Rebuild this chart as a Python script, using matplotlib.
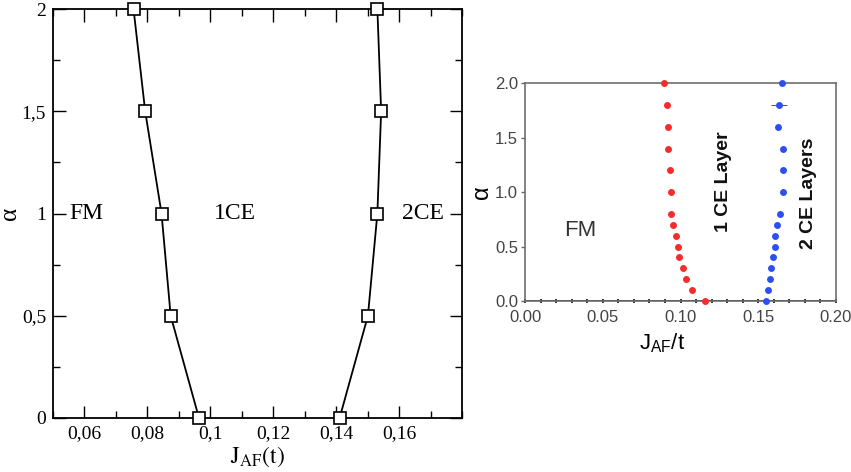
import matplotlib
matplotlib.use("Agg")
import matplotlib.pyplot as plt
from matplotlib.ticker import MultipleLocator, FixedLocator

plt.rcParams['mathtext.fontset'] = 'custom'
plt.rcParams['mathtext.rm'] = 'Liberation Sans'
plt.rcParams['mathtext.it'] = 'Liberation Sans:italic'

# ---------------- data: left panel ----------------
left_alpha = [2.0, 1.5, 1.0, 0.5, 0.0]
left_fm_1ce = [0.0756, 0.0793, 0.0845, 0.0874, 0.0964]
left_1ce_2ce = [0.1531, 0.1543, 0.1531, 0.1501, 0.1411]
left_xticks = [0.06, 0.08, 0.10, 0.12, 0.14, 0.16]
left_xticklabels = ['0,06', '0,08', '0,1', '0,12', '0,14', '0,16']
left_yticks = [0, 0.5, 1.0, 1.5, 2.0]
left_yticklabels = ['0', '0,5', '1', '1,5', '2']

# ---------------- data: right panel ----------------
right_alpha = [2.0, 1.8, 1.6, 1.4, 1.2, 1.0, 0.8, 0.7, 0.6, 0.5, 0.4, 0.3, 0.2, 0.1, 0.0]
right_red = [0.0896, 0.0913, 0.0920, 0.0918, 0.0932, 0.0939, 0.0937, 0.0950,
             0.0969, 0.0986, 0.0993, 0.1014, 0.1037, 0.1072, 0.1160]
right_blue = [0.1651, 0.1633, 0.1627, 0.1661, 0.1657, 0.1661, 0.1638, 0.1621,
              0.1608, 0.1606, 0.1595, 0.1584, 0.1573, 0.1565, 0.1552]
right_blue_err = [0, 0.005, 0, 0, 0, 0, 0, 0, 0, 0, 0, 0, 0, 0, 0]
right_xticks = [0.00, 0.05, 0.10, 0.15, 0.20]
right_xticklabels = ['0.00', '0.05', '0.10', '0.15', '0.20']
right_yticks = [0.0, 0.5, 1.0, 1.5, 2.0]
right_yticklabels = ['0.0', '0.5', '1.0', '1.5', '2.0']

W, H = 851, 472
fig = plt.figure(figsize=(W / 100, H / 100), dpi=100)

# ================= left panel =================
serif = 'Liberation Serif'
axL = fig.add_axes([53 / W, 1 - 418 / H, (462 - 53) / W, (418 - 9) / H])
for xs in (left_fm_1ce, left_1ce_2ce):
    axL.plot(xs, left_alpha, color='black', lw=1.3, marker='s', ms=8,
             mfc='white', mec='black', mew=1.2, clip_on=False, zorder=3)
axL.set_xlim(0.05, 0.18)
axL.set_ylim(0, 2)
axL.xaxis.set_major_locator(FixedLocator(left_xticks))
axL.set_xticklabels(left_xticklabels, fontfamily=serif, fontsize=14)
axL.xaxis.set_minor_locator(MultipleLocator(0.01))
axL.yaxis.set_major_locator(FixedLocator(left_yticks))
axL.set_yticklabels(left_yticklabels, fontfamily=serif, fontsize=14)
axL.yaxis.set_minor_locator(MultipleLocator(0.25))
axL.tick_params(which='both', direction='in', top=True, right=True, width=1, color='black')
axL.tick_params(which='major', length=9, pad=5)
axL.tick_params(which='minor', length=5)
for s in axL.spines.values():
    s.set_linewidth(1.3)
    s.set_color('black')
axL.set_xlabel(r'$\mathrm{J_{AF}(t)}$', fontsize=17, math_fontfamily='stix', labelpad=2)
axL.set_ylabel('α', fontfamily=serif, fontsize=18)
axL.yaxis.set_label_coords(-0.078, 0.5)
axL.text(0.0607, 1.0, 'FM', fontfamily=serif, fontsize=17, ha='center', va='center')
axL.text(0.1078, 1.0, '1CE', fontfamily=serif, fontsize=17, ha='center', va='center')
axL.text(0.1676, 1.0, '2CE', fontfamily=serif, fontsize=17, ha='center', va='center')

# ================= right panel =================
sans = 'Liberation Sans'
axR = fig.add_axes([525 / W, 1 - 301 / H, (836 - 525) / W, (301 - 83.3) / H])
axR.plot(right_red, right_alpha, 'o', color='#f42c2c', ms=5, mec='none', clip_on=False, zorder=4)
axR.errorbar(right_blue, right_alpha, xerr=right_blue_err, fmt='o', color='#2c4ff2', ms=5,
             mec='none', ecolor='#333333', elinewidth=0.6, capsize=0, clip_on=False, zorder=4)
axR.axhline(0, color='#111111', lw=1.3, zorder=2)
axR.set_xlim(0, 0.2)
axR.set_ylim(0, 2)
axR.xaxis.set_major_locator(FixedLocator(right_xticks))
axR.set_xticklabels(right_xticklabels, fontfamily=sans, fontsize=12, color='#444444')
axR.xaxis.set_minor_locator(MultipleLocator(0.01))
axR.yaxis.set_major_locator(FixedLocator(right_yticks))
axR.set_yticklabels(right_yticklabels, fontfamily=sans, fontsize=12, color='#444444')
axR.tick_params(axis='x', which='both', direction='inout', length=3.5, width=1.2, color='#111111', pad=5)
axR.tick_params(axis='y', which='major', direction='out', length=3, width=1, color='#666666', pad=2)
for s in axR.spines.values():
    s.set_linewidth(1.2)
    s.set_color('#6e6e6e')
axR.set_xlabel(r'$\mathrm{J_{AF}/t}$', fontsize=16)
axR.xaxis.set_label_coords(0.44, -0.14)
axR.set_ylabel('α', fontfamily=sans, fontsize=17)
axR.yaxis.set_label_coords(-0.103, 0.5)
axR.text(0.0354, 0.652, 'FM', fontfamily=sans, fontsize=16, ha='center', va='center', color='#333333')
axR.text(0.1275, 1.096, '1 CE Layer', fontfamily=sans, fontsize=14, fontweight='bold',
         rotation=90, ha='center', va='center', color='#111111')
axR.text(0.1822, 0.989, '2 CE Layers', fontfamily=sans, fontsize=14, fontweight='bold',
         rotation=90, ha='center', va='center', color='#111111')

fig.savefig('out.png', dpi=100)
